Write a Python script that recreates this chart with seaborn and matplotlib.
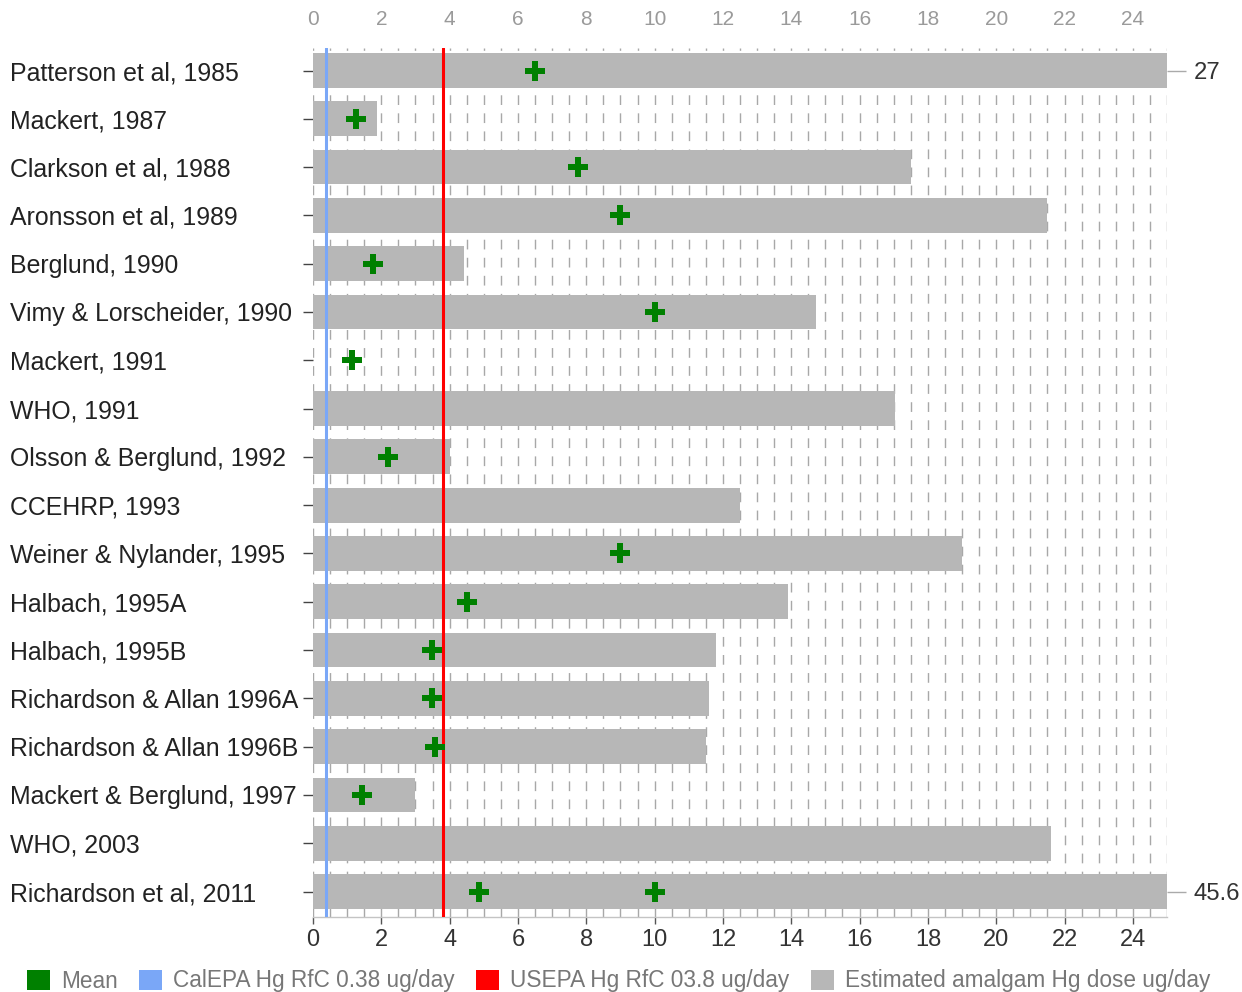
import matplotlib
matplotlib.use("Agg")
import matplotlib.pyplot as plt
import seaborn as sns
import pandas as pd
import numpy as np
from matplotlib.patches import Patch
from matplotlib.ticker import MultipleLocator

# ---------------- data ----------------
studies = [
    "Patterson et al, 1985",
    "Mackert, 1987",
    "Clarkson et al, 1988",
    "Aronsson et al, 1989",
    "Berglund, 1990",
    "Vimy & Lorscheider, 1990",
    "Mackert, 1991",
    "WHO, 1991",
    "Olsson & Berglund, 1992",
    "CCEHRP, 1993",
    "Weiner & Nylander, 1995",
    "Halbach, 1995A",
    "Halbach, 1995B",
    "Richardson & Allan 1996A",
    "Richardson & Allan 1996B",
    "Mackert & Berglund, 1997",
    "WHO, 2003",
    "Richardson et al, 2011",
]
dose_max = [27, 1.87, 17.5, 21.5, 4.42, 14.72, np.nan, 17.03, 4.01, 12.5,
            19.0, 13.9, 11.8, 11.6, 11.5, 3.0, 21.6, 45.6]

mean_study = [
    "Patterson et al, 1985", "Mackert, 1987", "Clarkson et al, 1988",
    "Aronsson et al, 1989", "Berglund, 1990", "Vimy & Lorscheider, 1990",
    "Mackert, 1991", "Olsson & Berglund, 1992", "Weiner & Nylander, 1995",
    "Halbach, 1995A", "Halbach, 1995B", "Richardson & Allan 1996A",
    "Richardson & Allan 1996B", "Mackert & Berglund, 1997",
    "Richardson et al, 2011", "Richardson et al, 2011",
]
mean_value = [6.5, 1.26, 7.75, 9.0, 1.75, 10.0, 1.13, 2.2, 9.0, 4.5,
              3.47, 3.47, 3.57, 1.42, 4.86, 10.0]

calepa_rfc = 0.38
usepa_rfc = 3.8
x_max = 25
x_ticks = list(range(0, 25, 2))

legend_labels = ["Mean", "CalEPA Hg RfC 0.38 ug/day",
                 "USEPA Hg RfC 03.8 ug/day", "Estimated amalgam Hg dose ug/day"]

c_mean = "#008000"
c_cal = "#7aa7f7"
c_us = "#ff0000"
c_bar = "#b7b7b7"

# ---------------- plot ----------------
sns.set_theme(style="white")
plt.rcParams["font.family"] = ["Liberation Sans", "DejaVu Sans"]

fig = plt.figure(figsize=(12.42, 9.92), dpi=100)
ax = fig.add_axes([313 / 1242, 1 - 917 / 992, 854 / 1242, 869 / 992])

df_bars = pd.DataFrame({"study": studies, "dose": dose_max})
df_means = pd.DataFrame({"study": mean_study, "mean": mean_value})

sns.barplot(data=df_bars, x="dose", y="study", order=studies, color=c_bar,
            saturation=1, width=0.72, errorbar=None, linewidth=0, ax=ax,
            zorder=2)
ax.axvline(calepa_rfc, color=c_cal, lw=2.2, zorder=3)
ax.axvline(usepa_rfc, color=c_us, lw=2.2, zorder=3)
sns.stripplot(data=df_means, x="mean", y="study", order=studies,
              jitter=False, marker="P", size=14, color=c_mean, linewidth=0,
              ax=ax, zorder=5)

ax.set_xlim(0, x_max)
ax.set_ylim(17.528, -0.466)
ax.set_xlabel("")
ax.set_ylabel("")

ax.xaxis.set_major_locator(MultipleLocator(2))
ax.xaxis.set_minor_locator(MultipleLocator(0.5))
ax.set_axisbelow(True)
ax.grid(axis="x", which="both", color="#a8a8a8", lw=1, ls=(0, (7, 6)))
ax.grid(axis="y", visible=False)

for s in ["left", "top", "right"]:
    ax.spines[s].set_visible(False)
ax.spines["bottom"].set_color("#c4c4c4")
ax.spines["bottom"].set_linewidth(1)

ax.tick_params(axis="x", which="major", bottom=True, length=5, width=1,
               color="#555555", labelsize=17, labelcolor="#333333", pad=4)
ax.tick_params(axis="x", which="minor", bottom=False, length=0)
ax.tick_params(axis="y", left=True, length=7, width=1, color="#444444",
               pad=211, labelsize=17.9, labelcolor="#222222")
for lbl in ax.get_yticklabels():
    lbl.set_horizontalalignment("left")

# top axis labels
top = ax.secondary_xaxis("top")
top.set_xticks(x_ticks)
top.tick_params(length=0, labelsize=15, labelcolor="#9a9a9a", pad=14)
for s in top.spines.values():
    s.set_visible(False)

# right axis: labels for bars extending past the axis
over_idx = [i for i, v in enumerate(dose_max) if v > x_max]
over_lbl = [f"{dose_max[i]:g}" for i in over_idx]
right = ax.secondary_yaxis("right")
right.set_yticks(over_idx, labels=over_lbl)
right.tick_params(length=14, width=1, color="#aaaaaa", labelsize=17.2,
                  labelcolor="#333333", pad=5)
for s in right.spines.values():
    s.set_visible(False)

handles = [Patch(facecolor=c, edgecolor="none") for c in [c_mean, c_cal, c_us, c_bar]]
fig.legend(handles, legend_labels, loc="center left",
           bbox_to_anchor=(27 / 1242, 1 - 981 / 992), ncol=4, frameon=False,
           fontsize=16.3, handlelength=1.0, handleheight=1.0,
           handletextpad=0.5, columnspacing=0.95, borderpad=0,
           borderaxespad=0, labelcolor="#777777")

fig.savefig("out.png", dpi=100)
